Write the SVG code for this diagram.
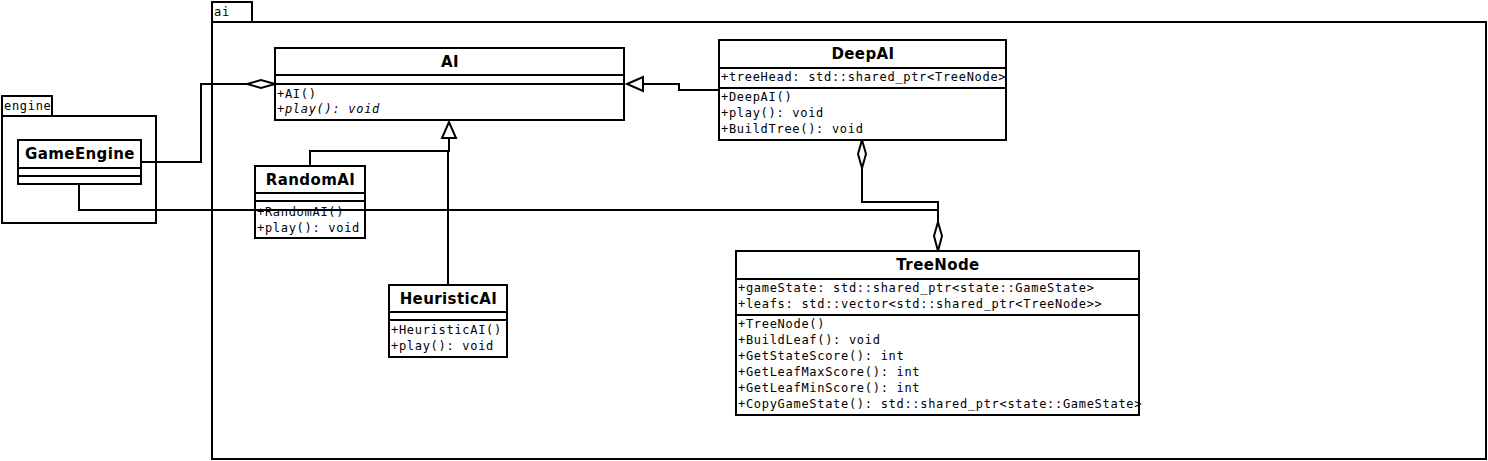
<svg xmlns="http://www.w3.org/2000/svg" width="1488" height="461" viewBox="0 0 1488 461">
<style>
.box{fill:#fff;stroke:#000;stroke-width:2}
.ln{fill:none;stroke:#000;stroke-width:2}
.t{font-family:"DejaVu Sans",sans-serif;font-weight:bold;font-size:15px;text-anchor:middle;letter-spacing:0.4px}
.m{font-family:"DejaVu Sans Mono",monospace;font-size:12px;letter-spacing:0.7px}
.i{font-style:italic}
.hd{fill:#fff;stroke:#000;stroke-width:2}
</style>
<rect width="1488" height="461" fill="#fff"/>
<g id="pkg-ai">
<rect class="box" x="212" y="2" width="40" height="20"/>
<rect class="box" x="212" y="22" width="1274" height="437"/>
<text class="m" x="214" y="16">ai</text>
</g>
<g id="pkg-engine">
<rect class="box" x="2" y="96" width="50" height="20"/>
<rect class="box" x="2" y="116" width="154" height="107"/>
<text class="m" x="4" y="110">engine</text>
</g>
<g id="connectors">
<polyline class="ln" points="141,162 201,162 201,84 247,84"/>
<polygon class="hd" points="275,84 261,80 247,84 261,88"/>
<polyline class="ln" points="719,90 679,90 679,84 643,84"/>
<polygon class="hd" points="627,84 643,77 643,91"/>
<polyline class="ln" points="310,166 310,151 449,151 449,138"/>
<polyline class="ln" points="448,285 448,151"/>
<polygon class="hd" points="449,122 442,138 456,138"/>
<polyline class="ln" points="862,168 862,202 938,202 938,222"/>
<polyline class="ln" points="79,184 79,210 938,210 938,222"/>
<polygon class="hd" points="862,140 866,154 862,168 858,154"/>
<polygon class="hd" points="938,222 942,236 938,251 934,236"/>
</g>
<g id="GameEngine">
<rect class="box" x="18" y="140" width="123" height="44"/>
<line class="ln" x1="18" y1="168" x2="141" y2="168"/>
<line class="ln" x1="18" y1="176" x2="141" y2="176"/>
<text class="t" x="80" y="159">GameEngine</text>
</g>
<g id="AI">
<rect class="box" x="275" y="48" width="349" height="72"/>
<line class="ln" x1="275" y1="75" x2="624" y2="75"/>
<line class="ln" x1="275" y1="84" x2="624" y2="84"/>
<text class="t" x="450" y="67">AI</text>
<text class="m" x="277" y="98">+AI()</text>
<text class="m i" x="277" y="113">+play(): void</text>
</g>
<g id="DeepAI">
<rect class="box" x="719" y="40" width="287" height="100"/>
<line class="ln" x1="719" y1="68" x2="1006" y2="68"/>
<line class="ln" x1="719" y1="88" x2="1006" y2="88"/>
<text class="t" x="863" y="59">DeepAI</text>
<text class="m" x="721" y="81">+treeHead: std::shared_ptr&lt;TreeNode&gt;</text>
<text class="m" x="721" y="101">+DeepAI()</text>
<text class="m" x="721" y="117">+play(): void</text>
<text class="m" x="721" y="133">+BuildTree(): void</text>
</g>
<g id="RandomAI">
<rect class="box" x="255" y="166" width="110" height="72"/>
<line class="ln" x1="255" y1="193" x2="365" y2="193"/>
<line class="ln" x1="255" y1="201" x2="365" y2="201"/>
<text class="t" x="310.5" y="185">RandomAI</text>
<text class="m" x="257" y="216">+RandomAI()</text>
<text class="m" x="257" y="232">+play(): void</text>
</g>
<line class="ln" x1="156" y1="210" x2="938" y2="210"/>
<g id="HeuristicAI">
<rect class="box" x="389" y="285" width="118" height="72"/>
<line class="ln" x1="389" y1="312" x2="507" y2="312"/>
<line class="ln" x1="389" y1="320" x2="507" y2="320"/>
<text class="t" x="448.5" y="304">HeuristicAI</text>
<text class="m" x="391" y="334">+HeuristicAI()</text>
<text class="m" x="391" y="350">+play(): void</text>
</g>
<g id="TreeNode">
<rect class="box" x="736" y="251" width="403" height="164"/>
<line class="ln" x1="736" y1="279" x2="1139" y2="279"/>
<line class="ln" x1="736" y1="315" x2="1139" y2="315"/>
<text class="t" x="938" y="270">TreeNode</text>
<text class="m" x="738" y="292">+gameState: std::shared_ptr&lt;state::GameState&gt;</text>
<text class="m" x="738" y="308">+leafs: std::vector&lt;std::shared_ptr&lt;TreeNode&gt;&gt;</text>
<text class="m" x="738" y="328">+TreeNode()</text>
<text class="m" x="738" y="344">+BuildLeaf(): void</text>
<text class="m" x="738" y="360">+GetStateScore(): int</text>
<text class="m" x="738" y="376">+GetLeafMaxScore(): int</text>
<text class="m" x="738" y="392">+GetLeafMinScore(): int</text>
<text class="m" x="738" y="408">+CopyGameState(): std::shared_ptr&lt;state::GameState&gt;</text>
</g>
</svg>
